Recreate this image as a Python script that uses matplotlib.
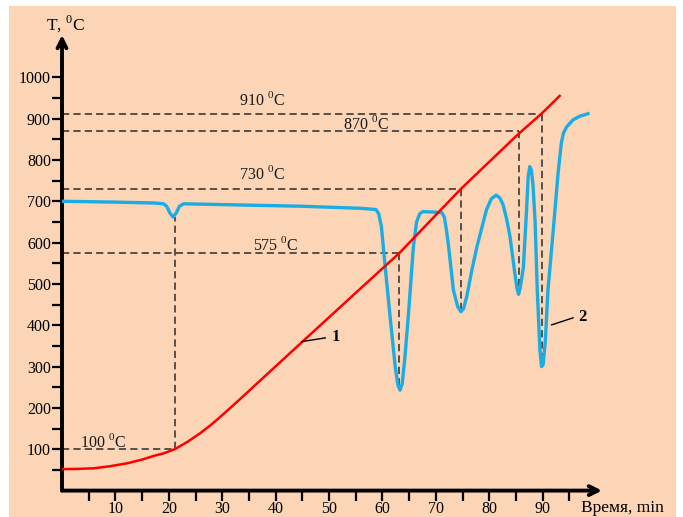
import matplotlib
matplotlib.use("Agg")
import matplotlib.pyplot as plt
from matplotlib.patches import Rectangle

plt.rcParams["font.family"] = ["Liberation Serif", "DejaVu Serif"]
plt.rcParams["mathtext.fontset"] = "custom"
plt.rcParams["mathtext.rm"] = "Liberation Serif"

# Heating curve (1): time, min -> temperature, °C
red_t = [0, 3, 6, 9, 12.2, 15, 17.2, 19, 21.1, 23.5, 25.9, 27.8, 29.7, 32.8,
         45, 55.9, 63.2, 74.7, 85.4, 89.8, 93.2]
red_T = [52, 52.5, 54, 59, 66, 75, 84, 90, 100, 118, 139, 158, 179, 215,
         360, 489, 575, 730, 862, 912, 955]

# Thermal-analysis curve (2)
blue_t = [0, 10, 17, 19.0, 19.6, 20.2, 20.8, 21.4, 22.0, 22.8, 30, 45, 56,
          58.8, 59.3, 59.8, 60.5, 61.5, 62.4, 62.9, 63.3, 63.7, 64.2, 64.9,
          65.8, 66.4, 67.0, 67.6, 71.1, 71.6, 72.0, 72.4, 73.3, 74.1, 74.7,
          75.2, 75.8, 76.7, 77.7, 79.5, 80.4, 81.3, 82.0, 82.6, 83.3, 83.9,
          84.8, 85.2, 85.5, 85.8, 86.4, 87.0, 87.3, 87.6, 87.9, 88.2, 88.6,
          89.0, 89.5, 89.8, 90.1, 90.5, 91.0, 92.0, 92.9, 93.5, 93.9, 94.5,
          95.7, 97.0, 98.5]
blue_T = [700, 698, 696, 694, 688, 672, 662, 672, 688, 694, 692, 688, 683,
          680, 670, 640, 545, 413, 300, 255, 243, 258, 320, 430,
          590, 650, 670, 675, 673, 662, 630, 590, 485, 445, 433,
          440, 470, 530, 590, 680, 706, 715, 708, 692, 655, 614,
          526, 490, 475, 490, 540, 680, 760, 784, 775, 740, 650,
          485, 340, 300, 305, 360, 485, 631, 768, 840, 865, 880,
          897, 906, 912]

# Transformation points: time, temperature, extremum on curve 2, label
crit_t = [21.1, 63.2, 74.7, 85.5, 89.8]
crit_T = [100, 575, 730, 870, 910]
crit_peak = [662, 243, 433, 475, 300]
crit_lbl_t = [7.6, 39.9, 37.5, 56.9, 37.5]
crit_lbl_T = [118, 594, 766, 887, 945]

x_major = [10, 20, 30, 40, 50, 60, 70, 80, 90]
x_minor = [5, 15, 25, 35, 45, 55, 65, 75, 85, 95]
y_major = [100, 200, 300, 400, 500, 600, 700, 800, 900, 1000]
y_minor = [50, 150, 250, 350, 450, 550, 650, 750, 850, 950]

BG = "#FBD5B5"
RED = "#FF0000"
BLUE = "#1AADE4"
DASH = "#4A4440"

W, H = 683, 517
fig = plt.figure(figsize=(W / 100, H / 100), dpi=100)
fig.patch.set_facecolor("white")
fig.patches.append(Rectangle((9 / W, 0), 667 / W, 511 / H, transform=fig.transFigure,
                             facecolor=BG, edgecolor="none", zorder=-10))

ax = fig.add_axes([62 / W, 26.4 / H, 540 / W, 455.6 / H])
ax.set_facecolor("none")
ax.set_xlim(0, 540 / 5.34)
ax.set_ylim(0, 455.6 / 0.4133)
for s in ax.spines.values():
    s.set_visible(False)

ax.set_xticks(x_major)
ax.set_xticklabels([str(v) for v in x_major])
ax.set_xticks(x_minor, minor=True)
ax.set_yticks(y_major)
ax.set_yticklabels([str(v) for v in y_major])
ax.set_yticks(y_minor, minor=True)
ax.tick_params(which="both", direction="out", length=7, width=1.6, color="black",
               labelsize=11.5, labelcolor="black")
ax.tick_params(axis="x", which="both", pad=0.5)
ax.tick_params(axis="y", which="both", pad=1)

# axes with arrows
arrow = dict(arrowstyle="->", lw=2.8, color="black", shrinkA=0, shrinkB=0,
             mutation_scale=16)
ax.annotate("", xy=(0, 1), xytext=(0, 0), xycoords="axes fraction", arrowprops=arrow)
ax.annotate("", xy=(1, 0), xytext=(0, 0), xycoords="axes fraction", arrowprops=arrow)

# dashed guide lines and temperature labels
for t, T, pk, lt, lT in zip(crit_t, crit_T, crit_peak, crit_lbl_t, crit_lbl_T):
    ax.plot([0, t], [T, T], color=DASH, lw=1.3, ls=(0, (4, 2.3)), zorder=2)
    ax.plot([t, t], [T, pk], color=DASH, lw=1.3, ls=(0, (4, 2.3)), zorder=2)
    ax.text(lt, lT, f"{T} " + r"$^\mathrm{0}$C", ha="center", va="center",
            fontsize=11.5, color="#1a1a1a")

ax.plot(blue_t, blue_T, color=BLUE, lw=2.4, solid_joinstyle="round", zorder=3)
ax.plot(red_t, red_T, color=RED, lw=1.8, zorder=4)

# curve numbers with leaders
ax.plot([44.9, 49.3], [360.5, 369.5], color="black", lw=1.0, zorder=5)
ax.text(51.3, 372, "1", fontsize=12, fontweight="bold", ha="center", va="center")
ax.plot([91.7, 95.7], [401, 418], color="black", lw=1.0, zorder=5)
ax.text(97.4, 421, "2", fontsize=12, fontweight="bold", ha="center", va="center")

fig.text(65.5 / W, 1 - 24 / H, r"T, $^\mathrm{0}$C", ha="center", va="center", fontsize=12.5)
fig.text(622 / W, 1 - 508 / H, "Время, min", ha="center", va="center", fontsize=12.5)

fig.savefig("out.png", dpi=100, facecolor=fig.get_facecolor())
